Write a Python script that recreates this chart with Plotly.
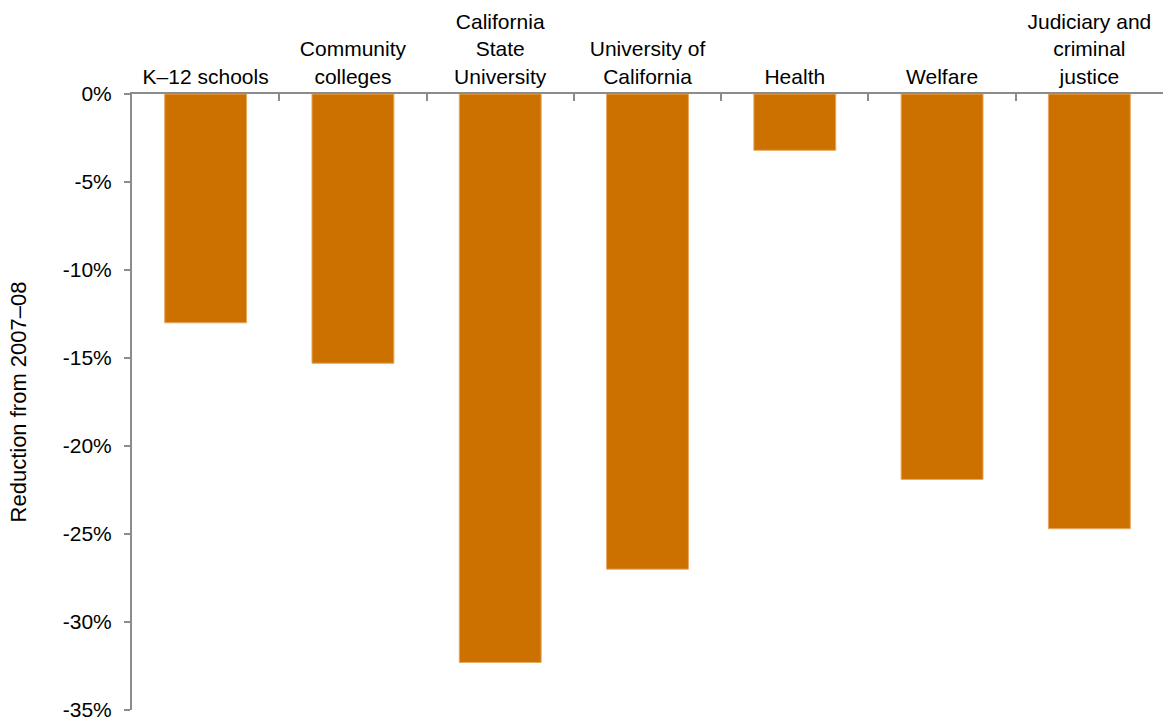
import plotly.graph_objects as go

categories = [
    "K–12 schools",
    "Community<br>colleges",
    "California<br>State<br>University",
    "University of<br>California",
    "Health",
    "Welfare",
    "Judiciary and<br>criminal<br>justice",
]
reductions = [-13.0, -15.3, -32.3, -27.0, -3.2, -21.9, -24.7]
y_ticks = [0, -5, -10, -15, -20, -25, -30, -35]
y_tick_labels = [f"{v}%" for v in y_ticks]

fig = go.Figure(
    go.Bar(
        x=categories,
        y=reductions,
        marker=dict(color="#CC7000", line=dict(color="#E8A860", width=1)),
        width=0.556,
    )
)

font_family = "Liberation Sans, Arial, sans-serif"

fig.update_layout(
    width=1163,
    height=721,
    margin=dict(l=132, r=0, t=94, b=11),
    paper_bgcolor="white",
    plot_bgcolor="white",
    showlegend=False,
    font=dict(family=font_family, size=21, color="#000000"),
)

fig.update_xaxes(
    side="top",
    type="category",
    range=[-0.5, 6.5],
    showline=True,
    linecolor="#8C8C8C",
    linewidth=2,
    ticks="inside",
    tickson="boundaries",
    ticklen=7,
    tickcolor="#8C8C8C",
    tickwidth=2,
    showgrid=False,
    tickfont=dict(size=21, color="#000000"),
)

fig.update_yaxes(
    range=[-35, 0],
    tickvals=y_ticks,
    ticktext=y_tick_labels,
    showline=True,
    linecolor="#8C8C8C",
    linewidth=2,
    ticks="outside",
    ticklen=6,
    tickcolor="#8C8C8C",
    tickwidth=2,
    ticklabelstandoff=8,
    ticklabeloverflow="allow",
    showgrid=False,
    zeroline=False,
    tickfont=dict(size=21, color="#000000"),
    title=dict(text="Reduction from 2007–08", font=dict(size=22, color="#000000"), standoff=30),
)

fig.write_html("out.html")
